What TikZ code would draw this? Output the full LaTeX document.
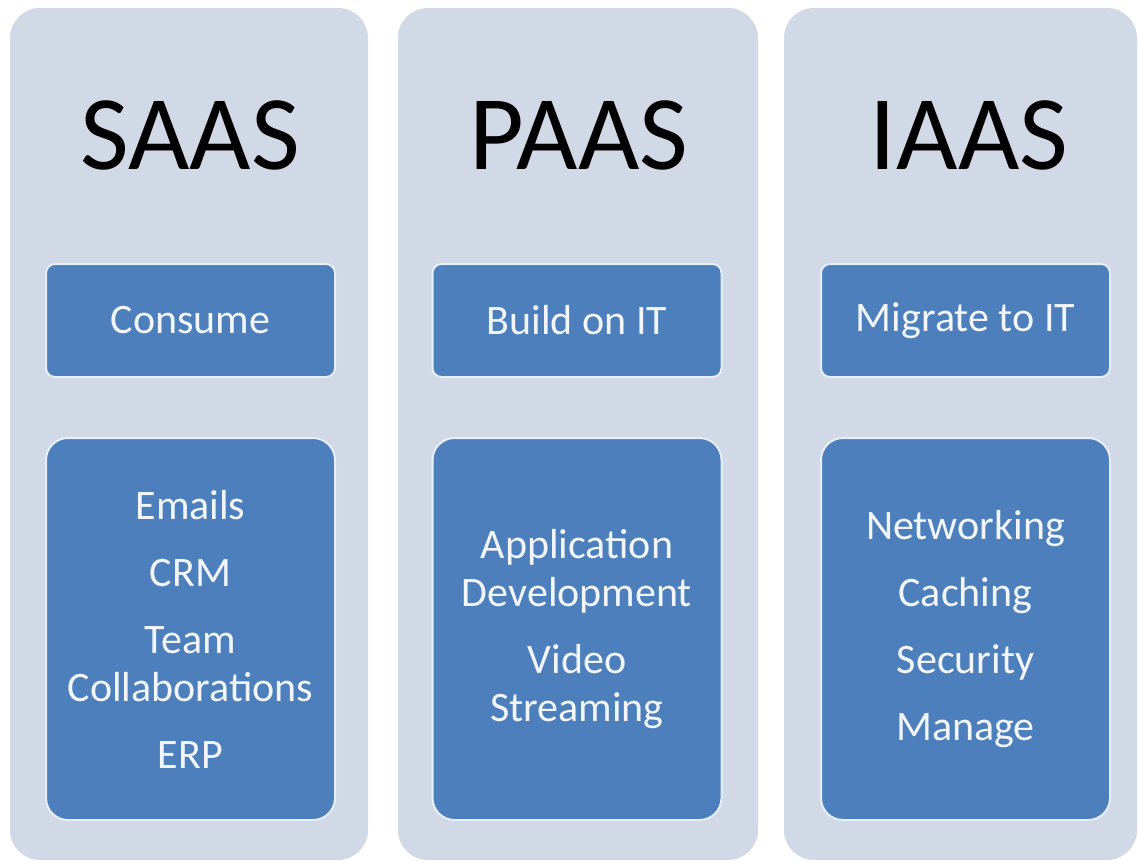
\documentclass[tikz,border=0pt]{standalone}
\usepackage{fontspec}
\setmainfont{Carlito}
\definecolor{panelfill}{HTML}{D1D9E7}
\definecolor{boxfill}{HTML}{4C7FBC}
\definecolor{boxline}{HTML}{E6EEF8}
\definecolor{boxtext}{HTML}{F2F6FB}
\tikzset{
  x=1pt, y=-1pt,
  panel/.style={fill=panelfill, draw=none, rounded corners=30pt, minimum width=#1, minimum height=852pt, inner sep=0pt},
  heading/.style={font=\fontsize{106}{120}\selectfont, text=black, anchor=base, inner sep=0pt},
  topbox/.style={fill=boxfill, draw=boxline, line width=2pt, rounded corners=9pt, minimum width=289pt, minimum height=113pt, inner sep=0pt, text=boxtext, font=\fontsize{42}{48}\selectfont},
  botbox/.style={fill=boxfill, draw=boxline, line width=2pt, rounded corners=22pt, minimum width=289pt, minimum height=382pt, inner sep=0pt, text=boxtext, align=center, font=\fontsize{42}{48}\selectfont}
}
\begin{document}
\begin{tikzpicture}
\path[use as bounding box, fill=white] (0,0) rectangle (1138,862);
% panels
\node[panel=358pt] (p1) at (189,434) {};
\node[panel=360pt] (p2) at (578,434) {};
\node[panel=353pt] (p3) at (960.5,434) {};
% headings
\node[heading] (h1) at (190,169) {SAAS};
\node[heading] (h2) at (579,169) {PAAS};
\node[heading] (h3) at (969,169) {IAAS};
% top boxes
\node[topbox] (t1) at (190.5,320.5) {Consume};
\node[topbox] (t2) at (577,320.5) {Build on IT};
\node[topbox] (t3) at (965.5,320.5) {Migrate to IT};
% bottom boxes
\node[botbox] (b1) at (190.5,629) {Emails\\[19pt]CRM\\[19pt]Team\\Collaborations\\[19pt]ERP};
\node[botbox] (b2) at (577,629) {Application\\Development\\[19pt]Video\\Streaming};
\node[botbox] (b3) at (965.5,629) {Networking\\[19pt]Caching\\[19pt]Security\\[19pt]Manage};
\end{tikzpicture}
\end{document}
